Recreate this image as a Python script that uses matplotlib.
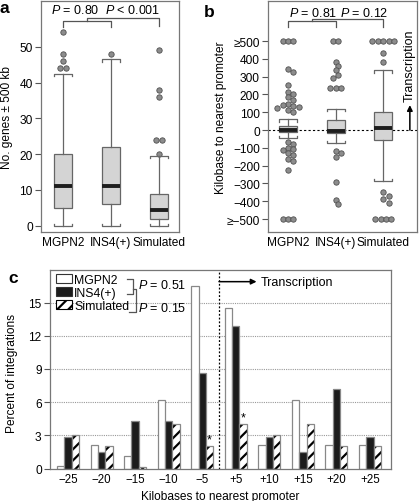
import numpy as np
import matplotlib
matplotlib.use("Agg")
import matplotlib.pyplot as plt
from matplotlib.patches import Patch
from itertools import groupby

plt.rcParams['font.family'] = ['Liberation Sans', 'DejaVu Sans']
plt.rcParams['mathtext.fontset'] = 'custom'
plt.rcParams['mathtext.it'] = 'Liberation Sans:italic'
plt.rcParams['mathtext.rm'] = 'Liberation Sans'
plt.rcParams['hatch.linewidth'] = 1.6
plt.rcParams['font.size'] = 8.6

# ---- data ----
groups = ["MGPN2", "INS4(+)", "Simulated"]

# panel a: genes within +-500 kb
a_med = [11.2, 11.0, 4.5]
a_q1 = [5, 6, 2]
a_q3 = [20, 22, 9]
a_lo = [0, 0, 0]
a_hi = [42.5, 46.5, 19.5]
a_out = [[54, 48, 46, 44, 44], [48], [49, 38, 36, 24, 24, 20]]

# panel b: kb to nearest promoter
b_med = [0, -3, 10]
b_q1 = [-10, -15, -55]
b_q3 = [25, 54, 104]
b_lo = [-45, -75, -285]
b_hi = [60, 120, 335]
b_pts = [
    [500, 500, 500, 345, 325, 255, 215, 200, 185, 168, 145, 143, 137, 130, 126, 110, 100,
     -65, -78, -100, -108, -115, -128, -142, -160, -175, -222, -500, -500, -500],
    [500, 500, 385, 360, 336, 312, 290, 238, 238, 238, -118, -128, -150, -293, -391, -415],
    [500, 500, 500, 500, 500, 432, 380, -350, -370, -390, -412, -500, -500, -500, -500],
]
b_ticks = [-500, -400, -300, -200, -100, 0, 100, 200, 300, 400, 500]
b_ticklabels = ["\u2265\u2212500", "\u2212400", "\u2212300", "\u2212200", "\u2212100", "0",
                "100", "200", "300", "400", "\u2265500"]

# panel c: percent of integrations
c_labels = ["\u221225", "\u221220", "\u221215", "\u221210", "\u22125",
            "+5", "+10", "+15", "+20", "+25"]
c_mgpn2 = [0.2, 2.1, 1.1, 6.2, 16.5, 14.5, 2.1, 6.2, 2.1, 2.1]
c_ins4 = [2.85, 1.5, 4.3, 4.3, 8.6, 12.9, 2.85, 1.45, 7.2, 2.85]
c_sim = [3.0, 2.0, 0.15, 4.05, 2.0, 4.05, 3.0, 4.05, 2.0, 2.0]
c_star = ["", "", "", "", "*", "*", "", "", "", ""]

W, H = 420, 502
fig = plt.figure(figsize=(W / 100, H / 100), dpi=100)


def rect(l, t, r, b):
    return [l / W, 1 - b / H, (r - l) / W, (b - t) / H]


ax_a = fig.add_axes(rect(41, 2, 179, 233))
ax_b = fig.add_axes(rect(268, 2, 417, 233))
ax_c = fig.add_axes(rect(50, 270.5, 391, 469.5))

spine_col = '#777777'
for ax in (ax_a, ax_b, ax_c):
    for s in ax.spines.values():
        s.set_color(spine_col)
        s.set_linewidth(0.9)
    ax.tick_params(axis='y', length=4, width=0.8, color='#555555', pad=2)
    ax.tick_params(axis='x', length=0, pad=3)


def swarm(ax, p, vals, d=5.4):
    T = ax.transData
    inv = T.inverted()
    xc = T.transform((p, 0))[0]
    placed, out = [], []
    for v, grp in groupby(sorted(vals, reverse=True)):
        n = len(list(grp))
        yp = T.transform((p, v))[1]
        if n > 1:
            offs = [(k - (n - 1) / 2) * d for k in range(n)]
        else:
            offs = [0]
            for k in [0, 1, -1, 2, -2, 3, -3, 4, -4]:
                o = k * d / 2
                if all((o - px) ** 2 + (yp - py) ** 2 >= (d * 0.92) ** 2 for px, py in placed):
                    offs = [o]
                    break
        for o in offs:
            placed.append((o, yp))
            out.append(inv.transform((xc + o, yp)))
    out = np.array(out)
    ax.scatter(out[:, 0], out[:, 1], s=15, c='#8c8c8c', edgecolors='#505050',
               linewidths=0.6, zorder=2, clip_on=False)


def boxes(ax, med, q1, q3, lo, hi, pts, w=0.38):
    pos = np.arange(1, len(med) + 1)
    stats = [dict(med=m, q1=a, q3=b, whislo=l, whishi=h, fliers=[])
             for m, a, b, l, h in zip(med, q1, q3, lo, hi)]
    ax.bxp(stats, positions=pos, widths=w, patch_artist=True, showcaps=False,
           boxprops=dict(facecolor='#d4d4d4', edgecolor='#666666', linewidth=0.9),
           medianprops=dict(color='#1e1e1e', linewidth=2.8, solid_capstyle='butt'),
           whiskerprops=dict(color='#666666', linewidth=0.9), zorder=3)
    inv = ax.transData.inverted()
    h = inv.transform((0, 2.2))[1] - inv.transform((0, 0))[1]
    for p, l, t in zip(pos, lo, hi):
        ax.plot([p - w / 2, p - w / 2, p + w / 2, p + w / 2], [t - h, t, t, t - h],
                color='#666666', lw=0.9, zorder=3)
        ax.plot([p - w / 2, p - w / 2, p + w / 2, p + w / 2], [l + h, l, l, l + h],
                color='#666666', lw=0.9, zorder=3)
    for p, v in zip(pos, pts):
        swarm(ax, p, v)
    ax.set_xticks(pos)
    ax.set_xticklabels(groups)


# ---- panel a ----
ax_a.set_xlim(0.54, 3.42)
ax_a.set_ylim(-1.76, 62.8)
boxes(ax_a, a_med, a_q1, a_q3, a_lo, a_hi, a_out)
ax_a.set_yticks([0, 10, 20, 30, 40, 50])
ax_a.set_ylabel("No. genes \u00b1 500 kb")
ax_a.yaxis.set_label_coords(-0.2, 0.5)
ax_a.plot([1, 1, 2, 2], [55.6, 57.2, 57.2, 55.6], color='#555555', lw=0.9)
ax_a.plot([1.5, 1.5, 3, 3], [57.2, 58.0, 58.0, 55.9], color='#555555', lw=0.9)
ax_a.text(1.25, 60.4, r"$P$ = 0.80", ha='center', va='center', fontsize=9)
ax_a.text(2.45, 60.4, r"$P$ < 0.001", ha='center', va='center', fontsize=9)

# ---- panel b ----
ax_b.set_xlim(0.58, 3.71)
ax_b.set_ylim(-573, 725)
ax_b.axhline(0, color='black', lw=0.8, ls=(0, (2, 2)), zorder=1)
boxes(ax_b, b_med, b_q1, b_q3, b_lo, b_hi, b_pts)
ax_b.set_yticks(b_ticks)
ax_b.set_yticklabels(b_ticklabels)
ax_b.set_ylabel("Kilobase to nearest promoter")
ax_b.yaxis.set_label_coords(-0.275, 0.5)
ax_b.plot([1, 1, 2, 2], [577, 612, 612, 577], color='#555555', lw=0.9)
ax_b.plot([1.5, 1.5, 3, 3], [612, 625, 625, 577], color='#555555', lw=0.9)
ax_b.text(1.52, 662, r"$P$ = 0.81", ha='center', va='center', fontsize=9)
ax_b.text(2.6, 662, r"$P$ = 0.12", ha='center', va='center', fontsize=9)
ax_b.annotate('', xy=(3.56, 140), xytext=(3.56, 0),
              arrowprops=dict(arrowstyle='-|>', color='black', lw=1.1, mutation_scale=8,
                              shrinkA=0, shrinkB=0))
ax_b.text(3.55, 365, "Transcription", rotation=90, ha='center', va='center', fontsize=9)

# ---- panel c ----
x = np.arange(len(c_labels))
bw = 0.22
ax_c.set_xlim(-0.54, 9.63)
ax_c.set_ylim(0, 18)
for yv in [3, 6, 9, 12, 15]:
    ax_c.axhline(yv, color='#999999', lw=0.8, ls=(0, (1, 1)), zorder=0)
ax_c.axvline(4.5, color='black', lw=0.9, ls=(0, (1.5, 1.5)), zorder=1)
ax_c.bar(x - bw, c_mgpn2, bw, color='white', edgecolor='#888888', lw=0.9, zorder=2)
ax_c.bar(x, c_ins4, bw, color='#1c1c1c', edgecolor='#888888', lw=0.9, zorder=2)
ax_c.bar(x + bw, c_sim, bw, color='white', edgecolor='black', hatch='///', lw=0, zorder=2)
ax_c.bar(x + bw, c_sim, bw, fill=False, edgecolor='#888888', lw=0.9, zorder=3)
for xi, v, s in zip(x, c_sim, c_star):
    if s:
        ax_c.text(xi + bw, v + 0.05, s, ha='center', va='bottom', fontsize=9)
ax_c.set_xticks(x)
ax_c.set_xticklabels(c_labels, fontsize=8.3)
ax_c.set_yticks([0, 3, 6, 9, 12, 15])
ax_c.set_ylabel("Percent of integrations")
ax_c.yaxis.set_label_coords(-0.094, 0.48)
ax_c.set_xlabel("Kilobases to nearest promoter")
ax_c.xaxis.set_label_coords(0.5, -0.11)
ax_c.annotate('', xy=(5.62, 16.9), xytext=(4.5, 16.9),
              arrowprops=dict(arrowstyle='-|>', color='black', lw=1.1, mutation_scale=8,
                              shrinkA=0, shrinkB=0))
ax_c.text(5.75, 16.9, "Transcription", ha='left', va='center', fontsize=9)

handles = [Patch(facecolor='white', edgecolor='#333333', lw=0.8),
           Patch(facecolor='#1c1c1c', edgecolor='#333333', lw=0.8),
           Patch(facecolor='white', edgecolor='black', hatch='///', lw=0.8)]
ax_c.legend(handles, groups, loc='upper left', bbox_to_anchor=(0.006, 1.0),
            frameon=False, borderaxespad=0, borderpad=0.35, handlelength=1.27,
            handleheight=0.75, handletextpad=0.2, labelspacing=0.1, fontsize=8.8)
bk = dict(color='#555555', lw=0.9, transform=ax_c.transAxes, clip_on=False)
ax_c.plot([0.2258, 0.2443, 0.2443, 0.2258], [0.950, 0.950, 0.875, 0.875], **bk)
ax_c.plot([0.2443, 0.2522, 0.2522, 0.2317], [0.903, 0.903, 0.784, 0.784], **bk)
ax_c.text(0.258, 0.925, r"$P$ = 0.51", transform=ax_c.transAxes, va='center', fontsize=9)
ax_c.text(0.258, 0.81, r"$P$ = 0.15", transform=ax_c.transAxes, va='center', fontsize=9)

# panel letters
fig.text(0 / W, 1 - 1 / H, "a", fontsize=12.5, fontweight='bold', va='top')
fig.text(204 / W, 1 - 17 / H, "b", fontsize=12.5, fontweight='bold', va='baseline')
fig.text(8 / W, 1 - 283 / H, "c", fontsize=12.5, fontweight='bold', va='baseline')

fig.savefig("out.png", dpi=100)
